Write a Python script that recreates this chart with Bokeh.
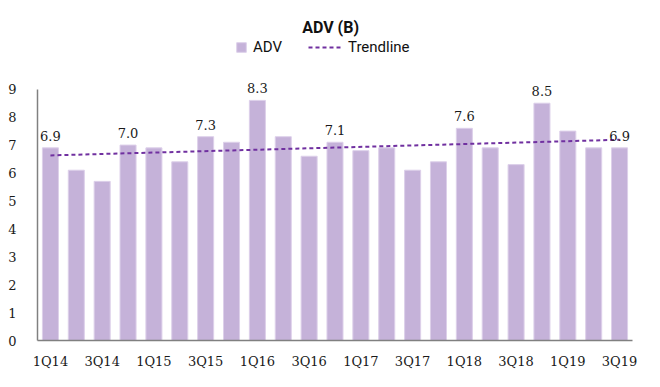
from bokeh.plotting import figure
from bokeh.models import (ColumnDataSource, Range1d, FixedTicker, Legend, LegendItem, Label)
from bokeh.core.properties import value
from bokeh.embed import file_html
from bokeh.resources import INLINE

quarters = ["1Q14", "2Q14", "3Q14", "4Q14", "1Q15", "2Q15", "3Q15", "4Q15",
            "1Q16", "2Q16", "3Q16", "4Q16", "1Q17", "2Q17", "3Q17", "4Q17",
            "1Q18", "2Q18", "3Q18", "4Q18", "1Q19", "2Q19", "3Q19"]
adv = [6.9, 6.1, 5.7, 7.0, 6.9, 6.4, 7.3, 7.1, 8.6, 7.3, 6.6, 7.1,
       6.8, 6.9, 6.1, 6.4, 7.6, 6.9, 6.3, 8.5, 7.5, 6.9, 6.9]
label_idx = [0, 3, 6, 8, 11, 16, 19, 22]
label_txt = ["6.9", "7.0", "7.3", "8.3", "7.1", "7.6", "8.5", "6.9"]
trend_idx = [0, 22]
trend_val = [6.63, 7.19]
y_ticks = [0, 1, 2, 3, 4, 5, 6, 7, 8, 9]

BAR = "#c5b2d9"
TREND = "#7030a0"
SERIF = "DejaVu Serif"
SANS = "Roboto"

x = list(range(len(quarters)))
src = ColumnDataSource(dict(x=x, top=adv))
lab_src = ColumnDataSource(dict(x=label_idx, y=[adv[i] for i in label_idx], t=label_txt))

p = figure(width=644, height=371, output_backend="svg", toolbar_location=None,
           x_range=Range1d(-0.5, len(quarters) - 0.5), y_range=Range1d(0, 11.82),
           min_border_left=37, min_border_right=12, min_border_top=10, min_border_bottom=30)
p.outline_line_color = None
p.xgrid.visible = False
p.ygrid.visible = False
p.background_fill_color = "white"
p.border_fill_color = "white"

bars = p.vbar(x="x", top="top", width=0.62, bottom=0, source=src,
              fill_color=BAR, line_color="#ddd0ea", line_width=1)
trend = p.line(trend_idx, trend_val, line_color=TREND, line_width=2, line_dash="4 3")

p.text(x="x", y="y", text="t", source=lab_src, text_align="center", text_baseline="bottom",
       y_offset=-7, text_font=value(SERIF), text_font_size="13px", text_color="#1a1a1a")

# axes
p.xaxis.ticker = FixedTicker(ticks=x[::2])
p.xaxis.major_label_overrides = {i: quarters[i] for i in x}
p.xaxis.major_tick_line_color = None
p.xaxis.minor_tick_line_color = None
p.xaxis.axis_line_color = "#808080"
p.xaxis.axis_line_width = 1.5
p.xaxis.major_label_text_font = SERIF
p.xaxis.major_label_text_font_size = "13px"
p.xaxis.major_label_text_color = "#1a1a1a"
p.xaxis.major_label_standoff = 7

p.yaxis.ticker = FixedTicker(ticks=y_ticks)
p.yaxis.bounds = (0, 9)
p.yaxis.major_tick_line_color = None
p.yaxis.minor_tick_line_color = None
p.yaxis.axis_line_color = "#808080"
p.yaxis.axis_line_width = 1.5
p.yaxis.major_label_text_font = SERIF
p.yaxis.major_label_text_font_size = "13px"
p.yaxis.major_label_text_color = "#1a1a1a"
p.yaxis.major_label_standoff = 15

# title
p.add_layout(Label(x=10.83, y=11.21, text="ADV (B)", text_align="center", text_baseline="middle",
                   text_font=SANS, text_font_style="bold", text_font_size="16px",
                   text_color="#111111"))

# legends
leg1 = Legend(items=[LegendItem(label="ADV", renderers=[bars])], location=(198, 284),
              orientation="horizontal", glyph_width=12, glyph_height=12, label_height=14,
              padding=0, margin=0, spacing=0, label_standoff=6,
              label_text_font=SANS, label_text_font_size="15px", label_text_color="#111111",
              border_line_color=None, background_fill_alpha=0)
leg2 = Legend(items=[LegendItem(label="Trendline", renderers=[trend])], location=(271, 284),
              orientation="horizontal", glyph_width=33, glyph_height=14, label_height=14,
              padding=0, margin=0, spacing=0, label_standoff=7,
              label_text_font=SANS, label_text_font_size="15px", label_text_color="#111111",
              border_line_color=None, background_fill_alpha=0)
p.add_layout(leg1, "center")
p.add_layout(leg2, "center")

open("out.html", "w").write(file_html(p, INLINE))
